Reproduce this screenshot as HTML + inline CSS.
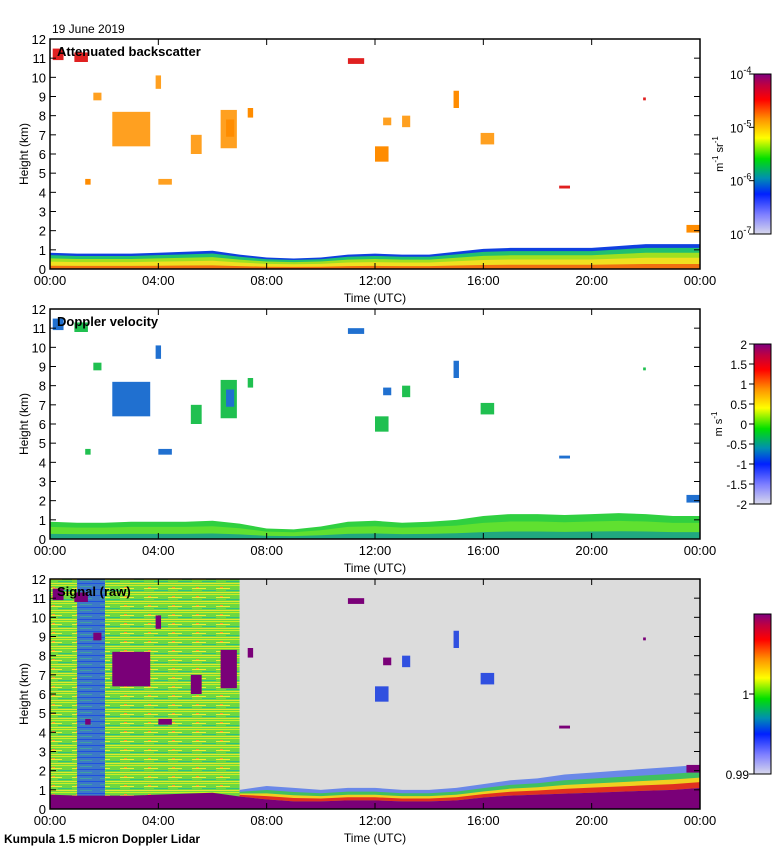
<!DOCTYPE html>
<html><head><meta charset="utf-8">
<style>
html,body{margin:0;padding:0;background:#fff;}
svg{display:block;font-family:"Liberation Sans",sans-serif;}
</style></head>
<body>
<svg id="fig" width="780" height="850" viewBox="0 0 780 850" xmlns="http://www.w3.org/2000/svg">
<defs>
<linearGradient id="cmap" x1="0" y1="1" x2="0" y2="0">
<stop offset="0" stop-color="#d8d8ec"/>
<stop offset="0.12" stop-color="#8080ff"/>
<stop offset="0.25" stop-color="#0020ff"/>
<stop offset="0.35" stop-color="#0090b0"/>
<stop offset="0.47" stop-color="#00e000"/>
<stop offset="0.6" stop-color="#ffff00"/>
<stop offset="0.72" stop-color="#ff9000"/>
<stop offset="0.84" stop-color="#ff0000"/>
<stop offset="0.93" stop-color="#c00040"/>
<stop offset="1" stop-color="#800080"/>
</linearGradient>
<pattern id="noise" width="24" height="9" patternUnits="userSpaceOnUse">
<rect width="24" height="9" fill="#6ed840"/>
<rect y="0" width="24" height="1" fill="#c8f020"/>
<rect y="3" width="14" height="1" fill="#f0f030"/>
<rect x="10" y="5" width="14" height="1" fill="#30c080"/>
<rect y="7" width="24" height="1" fill="#e0e830"/>
<rect x="4" y="2" width="3" height="1" fill="#ff9030"/>
</pattern>
<pattern id="noiseblue" width="20" height="6" patternUnits="userSpaceOnUse">
<rect width="20" height="6" fill="#3c78c8"/>
<rect y="1" width="20" height="1" fill="#2050e0"/>
<rect y="4" width="12" height="1" fill="#40a0a0"/>
</pattern>
</defs>
<text x="52" y="33" font-size="12">19 June 2019</text>
<g id="panels"></g>
<text x="4" y="843" font-size="12" font-weight="bold">Kumpula 1.5 micron Doppler Lidar</text>
</svg>
<script>
// ---- data ----
const timeTicks = ["00:00","04:00","08:00","12:00","16:00","20:00","00:00"];
const heightTicks = [0,1,2,3,4,5,6,7,8,9,10,11,12];
const blHours = [0,1,2,3,4,5,6,7,8,9,10,11,12,13,14,15,16,17,18,19,20,21,22,23,24];
const blTop = [0.85,0.8,0.8,0.8,0.85,0.9,0.95,0.75,0.6,0.55,0.6,0.75,0.8,0.75,0.75,0.9,1.05,1.1,1.1,1.1,1.1,1.2,1.3,1.3,1.3];
const dvTop = [0.9,0.85,0.85,0.9,0.9,0.9,0.95,0.8,0.55,0.5,0.65,0.9,0.95,0.85,0.9,1.0,1.2,1.3,1.3,1.25,1.3,1.35,1.3,1.2,1.2];
const sigPurple = [0.75,0.7,0.7,0.7,0.75,0.8,0.85,0.65,0.5,0.4,0.4,0.45,0.45,0.4,0.4,0.45,0.6,0.7,0.75,0.8,0.85,0.9,0.95,1.0,1.1];
const sigBlue = [1.5,1.3,1.3,1.3,1.4,1.5,1.5,1.0,1.2,1.1,1.0,1.1,1.1,1.0,1.0,1.1,1.3,1.5,1.6,1.8,1.9,2.0,2.1,2.2,2.3];
// clouds: [start hour, base km, duration h, depth km]
const cloudT = [0.1,0.9,2.3,1.3,4.0,6.3,6.5,5.2,3.9,12.0,12.3,13.0,14.9,15.9,11.0,7.3,18.8,21.9,23.5,1.6];
const cloudH = [10.9,10.8,6.4,4.4,4.4,6.3,6.9,6.0,9.4,5.6,7.5,7.4,8.4,6.5,10.7,7.9,4.2,8.8,1.9,8.8];
const cloudD = [0.6,0.5,1.8,0.3,0.3,2.0,0.9,1.0,0.7,0.8,0.4,0.6,0.9,0.6,0.3,0.5,0.15,0.15,0.4,0.4];
const cloudW = [0.4,0.5,1.4,0.2,0.5,0.6,0.3,0.4,0.2,0.5,0.3,0.3,0.2,0.5,0.6,0.2,0.4,0.1,0.5,0.3];
const cbTicks1 = ["10","10","10","10"];
const cbExp1 = ["-4","-5","-6","-7"];
const cbTicks2 = ["2","1.5","1","0.5","0","-0.5","-1","-1.5","-2"];

const NS="http://www.w3.org/2000/svg";
const X0=50,X1=700,PH=230;
const panelsTop=[39,309,579];
const titles=["Attenuated backscatter","Doppler velocity","Signal (raw)"];
const root=document.getElementById('panels');
function mk(tag,attrs,parent){const e=document.createElementNS(NS,tag);for(const k in attrs)e.setAttribute(k,attrs[k]);(parent||root).appendChild(e);return e;}
const xs=t=>X0+t/24*(X1-X0);

panelsTop.forEach((top,pi)=>{
  const bot=top+PH;
  const ys=h=>bot-h/12*PH;
  const g=mk('g',{});
  
  
  if(pi===2){
    const bg=mk('rect',{x:X0,y:top,width:X1-X0,height:PH,fill:'#dcdcdc'},g);
    
    
    mk('rect',{x:X0,y:top,width:xs(7)-X0,height:PH,fill:'url(#noise)'},g);
    mk('rect',{x:xs(1),y:top,width:xs(2.03)-xs(1),height:PH,fill:'url(#noiseblue)'},g);
  }
  const tops = pi===1?dvTop:(pi===2?sigPurple:blTop);
  function bandArr(lo,hi,col,from){
    from=from||0;
    let d='M'+xs(blHours[from])+','+ys(hi[from]);
    for(let i=from;i<blHours.length;i++)d+=' L'+xs(blHours[i])+','+ys(hi[i]);
    for(let i=blHours.length-1;i>=from;i--)d+=' L'+xs(blHours[i])+','+ys(lo[i]);
    const p=mk('path',{d:d+'Z',fill:col},g);
    
    
  }
  function band(f1,f2,col){
    bandArr(tops.map(v=>v*f1),tops.map(v=>v*f2),col,0);
  }
  if(pi===0){
    band(0,1,'#1040e0');band(0,0.85,'#20c070');band(0,0.65,'#a0e020');band(0,0.45,'#f0e020');band(0,0.2,'#f07010');
  } else if(pi===1){
    band(0,1,'#30d040');band(0,0.7,'#60e030');band(0,0.3,'#20a880');
  } else {
    const mix=(a,b,f)=>a.map((v,i)=>v+(b[i]-v)*f);
    bandArr(sigPurple,sigBlue,'#6a88e8',7);
    bandArr(sigPurple,mix(sigPurple,sigBlue,0.7),'#40c060',7);
    bandArr(sigPurple,mix(sigPurple,sigBlue,0.45),'#f0d020',7);
    bandArr(sigPurple,mix(sigPurple,sigBlue,0.25),'#e03020',7);
    band(0,1,'#7a0078');
  }
  // clouds
  cloudT.forEach((t,i)=>{
    let col;
    if(pi===0) col = cloudH[i]>9.5||cloudD[i]<0.3 ? '#e02020' : (i%3===0?'#ff8c00':'#ffa020');
    else if(pi===1) col = (i%2? '#20c050':'#2070d0');
    else col = '#7a0078';
    if(pi===2 && t>7 && cloudD[i]>0.5) col='#3050e0';
    const r=mk('rect',{x:xs(t),y:ys(cloudH[i]+cloudD[i]),width:Math.max(2,xs(t+cloudW[i])-xs(t)),height:cloudD[i]/12*PH,fill:col},g);
    
    
  });
  // frame
  const fr=mk('rect',{x:X0,y:top,width:X1-X0,height:PH,fill:'none',stroke:'#000','stroke-width':1.5},g);
  
  
  heightTicks.forEach(h=>{
    mk('line',{x1:X0,x2:X0+6,y1:ys(h),y2:ys(h),stroke:'#000'},g);
    mk('line',{x1:X1-6,x2:X1,y1:ys(h),y2:ys(h),stroke:'#000'},g);
    const tx=mk('text',{x:X0-4,y:ys(h)+5,'font-size':13,'text-anchor':'end'},g);tx.textContent=h;
    
    
  });
  timeTicks.forEach((s,i)=>{
    const x=xs(i*4);
    mk('line',{x1:x,x2:x,y1:top,y2:top+6,stroke:'#000'},g);
    mk('line',{x1:x,x2:x,y1:bot-6,y2:bot,stroke:'#000'},g);
    const tx=mk('text',{x:x,y:bot+16,'font-size':13,'text-anchor':'middle'},g);tx.textContent=s;
    
    
  });
  const xt=mk('text',{x:375,y:bot+33,'font-size':12,'text-anchor':'middle'},g);xt.textContent='Time (UTC)';
  
  
  const yt=mk('text',{x:0,y:0,'font-size':12,'text-anchor':'middle',transform:`translate(28,${top+PH/2}) rotate(-90)`},g);yt.textContent='Height (km)';
  
  
  const tt=mk('text',{x:57,y:top+17,'font-size':13,'font-weight':'bold'},g);tt.textContent=titles[pi];
  
  
  // colorbar
  const cbTop=top+35,cbH=160;
  const cb=mk('rect',{x:754,y:cbTop,width:17,height:cbH,fill:'url(#cmap)',stroke:'#000'},g);
  
  
  if(pi===0){
    cbTicks1.forEach((s,i)=>{
      const y=cbTop+i*cbH/3;
      mk('line',{x1:749,x2:754,y1:y,y2:y,stroke:'#000'},g);
      const t=mk('text',{x:730,y:y+5,'font-size':12},g);
      t.innerHTML=s+'<tspan dy="-6" font-size="9">'+cbExp1[i]+'</tspan>';
      
      
    });
    const u=mk('text',{x:0,y:0,'font-size':11,'text-anchor':'middle',transform:`translate(723,${cbTop+80}) rotate(-90)`},g);
    u.innerHTML='m<tspan dy="-5" font-size="8">-1</tspan><tspan dy="5"> sr</tspan><tspan dy="-5" font-size="8">-1</tspan>';
    
    
  } else if(pi===1){
    cbTicks2.forEach((s,i)=>{
      const y=cbTop+i*cbH/8;
      mk('line',{x1:749,x2:754,y1:y,y2:y,stroke:'#000'},g);
      const t=mk('text',{x:747,y:y+5,'font-size':12,'text-anchor':'end'},g);t.textContent=s;
      
      
    });
    const u=mk('text',{x:0,y:0,'font-size':11,'text-anchor':'middle',transform:`translate(722,${cbTop+80}) rotate(-90)`},g);
    u.innerHTML='m s<tspan dy="-5" font-size="8">-1</tspan>';
    
    
  } else {
    [["1",cbTop+80],["0.99",cbTop+cbH]].forEach(([s,y])=>{
      mk('line',{x1:749,x2:754,y1:y,y2:y,stroke:'#000'},g);
      const t=mk('text',{x:749,y:y+5,'font-size':12,'text-anchor':'end'},g);t.textContent=s;
      
      
    });
  }
});
</script>
</body></html>
